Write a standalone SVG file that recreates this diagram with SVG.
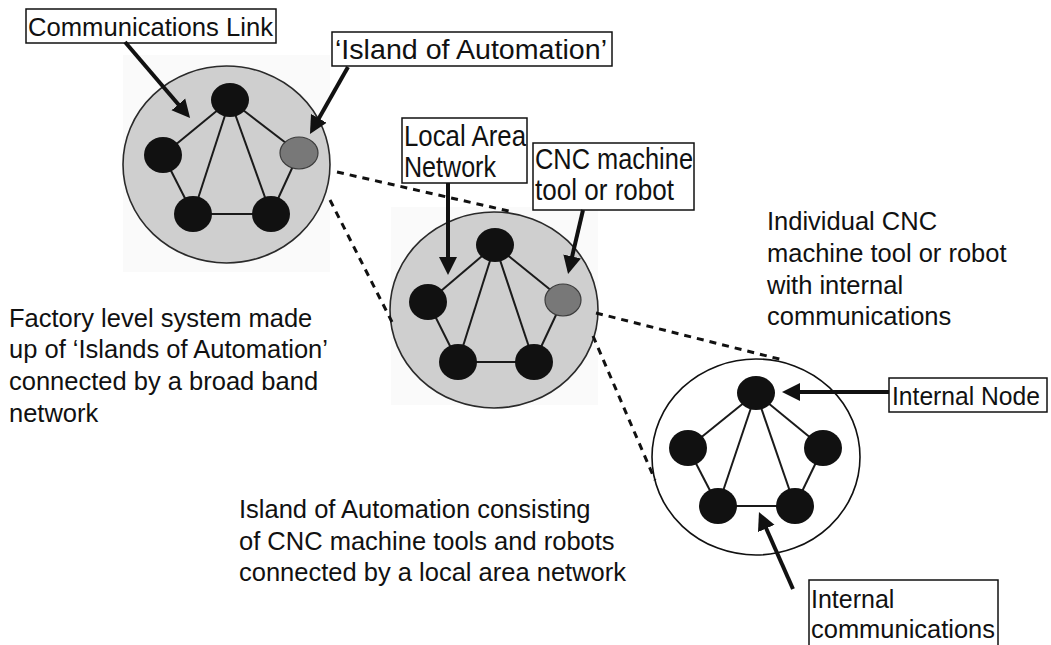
<svg xmlns="http://www.w3.org/2000/svg" width="1051" height="645" viewBox="0 0 1051 645">
  <style>
    .lbl { font-family: "Liberation Sans", Arial, sans-serif; fill: #111; }
    .box { fill: #fff; stroke: #111; stroke-width: 1.5; }
    .island { fill: #cfcfcf; stroke: #2a2a2a; stroke-width: 1.6; }
    .tile { fill: #fafafa; }
    .machine { fill: #fff; stroke: #111; stroke-width: 1.6; }
    .link { stroke: #1a1a1a; stroke-width: 2; fill: none; }
    .node { fill: #111; }
    .cell { fill: #787878; stroke: #3c3c3c; stroke-width: 1.2; }
    .pointer { stroke: #111; stroke-width: 4; fill: none; marker-end: url(#head); }
    .zoom { stroke: #111; stroke-width: 3; stroke-dasharray: 7 6; fill: none; }
  </style>
  <defs>
    <marker id="head" viewBox="0 0 10 10" refX="5" refY="5" markerWidth="4.5" markerHeight="5" orient="auto">
      <path d="M0,0 L10,5 L0,10 z" fill="#111"/>
    </marker>
  </defs>

  <rect width="1051" height="645" fill="#fff"/>

  <!-- factory level: islands joined by the broadband network -->
  <g id="factory">
    <rect class="tile" x="123" y="55" width="207" height="217"/>
    <ellipse class="island" cx="226.5" cy="164.5" rx="103.5" ry="98.5"/>
    <g>
      <line class="link" x1="230" y1="100" x2="163" y2="155"/>
      <line class="link" x1="230" y1="100" x2="299" y2="153"/>
      <line class="link" x1="230" y1="100" x2="193" y2="214"/>
      <line class="link" x1="230" y1="100" x2="271" y2="214"/>
      <line class="link" x1="163" y1="155" x2="193" y2="214"/>
      <line class="link" x1="299" y1="153" x2="271" y2="214"/>
      <line class="link" x1="193" y1="214" x2="271" y2="214"/>
    </g>
    <ellipse class="node" cx="230" cy="100" rx="19" ry="17"/>
    <ellipse class="node" cx="163" cy="155" rx="19" ry="18"/>
    <ellipse class="cell" cx="299" cy="153" rx="19" ry="16"/>
    <ellipse class="node" cx="193" cy="214" rx="19" ry="18"/>
    <ellipse class="node" cx="271" cy="214" rx="19" ry="18"/>
  </g>

  <!-- island of automation: machines on a local area network -->
  <g id="island">
    <rect class="tile" x="391" y="207" width="207" height="198"/>
    <ellipse class="island" cx="494" cy="310" rx="104" ry="98"/>
    <g>
      <line class="link" x1="495" y1="245" x2="428" y2="302"/>
      <line class="link" x1="495" y1="245" x2="563" y2="300"/>
      <line class="link" x1="495" y1="245" x2="458" y2="362"/>
      <line class="link" x1="495" y1="245" x2="534" y2="362"/>
      <line class="link" x1="428" y1="302" x2="458" y2="362"/>
      <line class="link" x1="563" y1="300" x2="534" y2="362"/>
      <line class="link" x1="458" y1="362" x2="534" y2="362"/>
    </g>
    <ellipse class="node" cx="495" cy="245" rx="19" ry="17"/>
    <ellipse class="node" cx="428" cy="302" rx="19" ry="18"/>
    <ellipse class="cell" cx="563" cy="300" rx="18" ry="16"/>
    <ellipse class="node" cx="458" cy="362" rx="19" ry="18"/>
    <ellipse class="node" cx="534" cy="362" rx="19" ry="18"/>
  </g>

  <!-- single machine with its internal communications -->
  <g id="machine">
    <ellipse class="machine" cx="756" cy="457" rx="104" ry="98"/>
    <g>
      <line class="link" x1="756" y1="393" x2="688" y2="448"/>
      <line class="link" x1="756" y1="393" x2="823" y2="448"/>
      <line class="link" x1="756" y1="393" x2="718" y2="506"/>
      <line class="link" x1="756" y1="393" x2="795" y2="506"/>
      <line class="link" x1="688" y1="448" x2="718" y2="506"/>
      <line class="link" x1="823" y1="448" x2="795" y2="506"/>
      <line class="link" x1="718" y1="506" x2="795" y2="506"/>
    </g>
    <ellipse class="node" cx="756" cy="393" rx="19" ry="17"/>
    <ellipse class="node" cx="688" cy="448" rx="19" ry="18"/>
    <ellipse class="node" cx="823" cy="448" rx="19" ry="18"/>
    <ellipse class="node" cx="718" cy="506" rx="19" ry="18"/>
    <ellipse class="node" cx="795" cy="506" rx="19" ry="18"/>
  </g>

  <!-- callout labels -->
  <g id="label-comms-link">
    <rect class="box" x="26" y="9" width="250" height="34"/>
    <text class="lbl" x="28" y="36" font-size="25" textLength="245" lengthAdjust="spacingAndGlyphs">Communications Link</text>
  </g>
  <g id="label-island">
    <rect class="box" x="332" y="32" width="280" height="34"/>
    <text class="lbl" x="335" y="59" font-size="27" textLength="272" lengthAdjust="spacingAndGlyphs">‘Island of Automation’</text>
  </g>
  <g id="label-lan">
    <rect class="box" x="402" y="118" width="125" height="65"/>
    <text class="lbl" x="404" y="146" font-size="30" textLength="122" lengthAdjust="spacingAndGlyphs">Local Area</text>
    <text class="lbl" x="404" y="177" font-size="30" textLength="92" lengthAdjust="spacingAndGlyphs">Network</text>
  </g>
  <g id="label-cnc">
    <rect class="box" x="533" y="143" width="161" height="67"/>
    <text class="lbl" x="535" y="169" font-size="29" textLength="158" lengthAdjust="spacingAndGlyphs">CNC machine</text>
    <text class="lbl" x="535" y="200" font-size="29" textLength="139" lengthAdjust="spacingAndGlyphs">tool or robot</text>
  </g>
  <g id="label-internal-node">
    <rect class="box" x="889" y="378" width="158" height="34"/>
    <text class="lbl" x="892" y="405" font-size="26" textLength="148" lengthAdjust="spacingAndGlyphs">Internal Node</text>
  </g>
  <g id="label-internal-comms">
    <rect class="box" x="809" y="580" width="189" height="70"/>
    <text class="lbl" x="811" y="608" font-size="25">Internal</text>
    <text class="lbl" x="811" y="638" font-size="25" textLength="184" lengthAdjust="spacingAndGlyphs">communications</text>
  </g>

  <!-- descriptions -->
  <g id="text-factory" class="lbl" font-size="25.5">
    <text x="9" y="327">Factory level system made</text>
    <text x="9" y="358">up of ‘Islands of Automation’</text>
    <text x="9" y="390">connected by a broad band</text>
    <text x="9" y="422">network</text>
  </g>
  <g id="text-island" class="lbl" font-size="25.5">
    <text x="239" y="518">Island of Automation consisting</text>
    <text x="239" y="550">of CNC machine tools and robots</text>
    <text x="239" y="581">connected by a local area network</text>
  </g>
  <g id="text-machine" class="lbl" font-size="25.5">
    <text x="767" y="230">Individual CNC</text>
    <text x="767" y="262">machine tool or robot</text>
    <text x="767" y="294">with internal</text>
    <text x="767" y="325">communications</text>
  </g>

  <!-- connectors: zoom-in guides and label pointers -->
  <g id="connectors">
    <line class="zoom" x1="337" y1="172" x2="513" y2="212"/>
    <line class="zoom" x1="330" y1="200" x2="392" y2="322"/>
    <line class="zoom" x1="596" y1="313" x2="783" y2="360"/>
    <line class="zoom" x1="593" y1="336" x2="655" y2="480"/>

    <line class="pointer" x1="125" y1="42" x2="184.2" y2="111.2"/>
    <line class="pointer" x1="348" y1="67" x2="314.4" y2="126.2"/>
    <line class="pointer" x1="448" y1="183" x2="448" y2="266"/>
    <line class="pointer" x1="583" y1="210" x2="570.1" y2="265.2"/>
    <line class="pointer" x1="889" y1="392" x2="791" y2="392"/>
    <line class="pointer" x1="793" y1="589" x2="762.6" y2="520.2"/>
  </g>
</svg>
